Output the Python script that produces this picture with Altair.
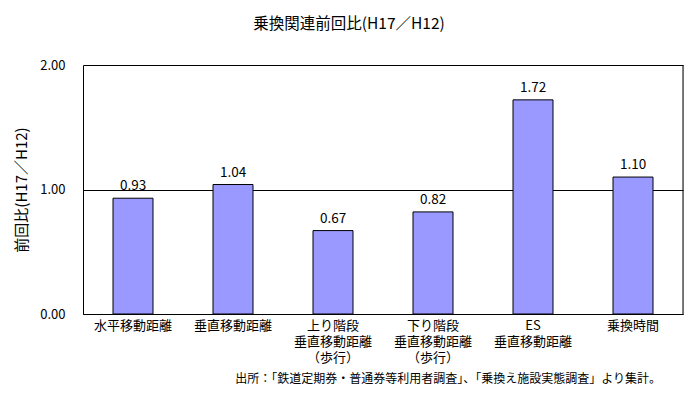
import altair as alt
import pandas as pd

categories = ["水平移動距離", "垂直移動距離", "上り階段\n垂直移動距離\n（歩行）",
              "下り階段\n垂直移動距離\n（歩行）", "ES\n垂直移動距離", "乗換時間"]
values = [0.93, 1.04, 0.67, 0.82, 1.72, 1.10]
y_ticks = [0, 1, 2]

df = pd.DataFrame({"cat": categories, "val": values})
FONT = "Noto Sans CJK JP"
W, H = 600, 249

x = alt.X("cat:N", sort=categories, title=None,
          scale=alt.Scale(paddingInner=0.6, paddingOuter=0.3),
          axis=alt.Axis(labelExpr="split(datum.label, '\\n')", labelAngle=0,
                        ticks=False, domain=True, domainColor="black", domainOpacity=1,
                        labelFontSize=13, labelFont=FONT,
                        labelColor="black", labelPadding=5, labelLineHeight=16))
y = alt.Y("val:Q", title="前回比(H17／H12)",
          scale=alt.Scale(domain=[0, 2], nice=False),
          axis=alt.Axis(values=y_ticks, format=".2f", ticks=False, domain=True,
                        domainColor="black", domainOpacity=1,
                        grid=True, gridColor="black", gridOpacity=1, gridWidth=1,
                        labelFontSize=13, labelFont=FONT, labelColor="black",
                        labelPadding=18, titleFontSize=15, titleFont=FONT,
                        titleFontWeight="normal", titleColor="black", titlePadding=10))

bars = alt.Chart(df).mark_bar(color="#9999FF", stroke="black", strokeWidth=1).encode(x=x, y=y)
labels = alt.Chart(df).mark_text(dy=-5, baseline="bottom", fontSize=13.5, font=FONT,
                                 color="black").encode(
    x=alt.X("cat:N", sort=categories), y="val:Q", text=alt.Text("val:Q", format=".2f"))
right_edge = alt.Chart(pd.DataFrame({"d": [0]})).mark_rule(color="black").encode(
    x=alt.value(W), y=alt.value(0), y2=alt.value(H))
note = alt.Chart(pd.DataFrame({"t": ["出所：「鉄道定期券・普通券等利用者調査」、「乗換え施設実態調査」より集計。"]})).mark_text(
    align="right", baseline="middle", fontSize=12, font=FONT, color="black").encode(
    x=alt.value(578), y=alt.value(314), text="t:N")

chart = alt.layer(bars, labels, right_edge, note).properties(
    width=W, height=H,
    title=alt.TitleParams("乗換関連前回比(H17／H12)", fontSize=15.5, font=FONT,
                          fontWeight="normal", color="black", anchor="middle",
                          dx=-34, offset=27),
    autosize=alt.AutoSizeParams(type="none"),
    padding={"left": 75, "top": 57, "right": 8, "bottom": 75},
).configure_view(stroke="black", strokeWidth=1).configure(background="white")

chart.save("out.html", embed_options={"renderer": "svg", "actions": False})
